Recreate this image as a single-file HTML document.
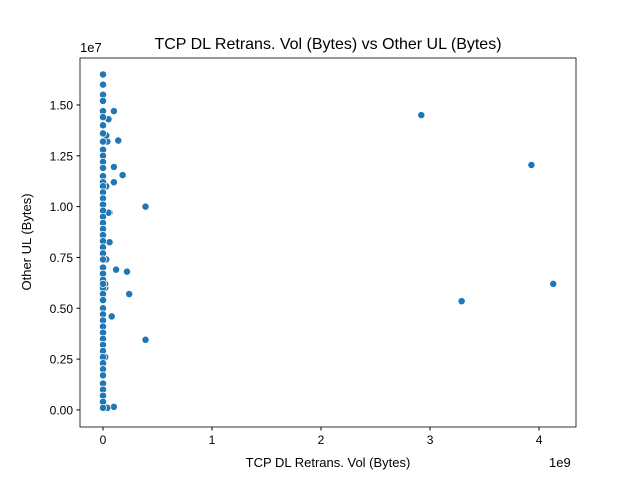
<!DOCTYPE html>
<html><head><meta charset="utf-8"><style>
body{margin:0;background:#fff;}
svg{display:block;font-family:"Liberation Sans","DejaVu Sans",sans-serif;}
</style></head><body>
<svg id="chart" width="640" height="480">
<rect width="640" height="480" fill="#fff"/>
<text x="328" y="49" font-size="16" text-anchor="middle">TCP DL Retrans. Vol (Bytes) vs Other UL (Bytes)</text>
<g id="marks"></g>
<g id="axes"></g>
<text x="328" y="467" font-size="13" text-anchor="middle">TCP DL Retrans. Vol (Bytes)</text>
<text x="31" y="242" font-size="13" text-anchor="middle" transform="rotate(-90 31 242)">Other UL (Bytes)</text>
<text x="549" y="467" font-size="13">1e9</text>
<text x="80" y="52" font-size="13">1e7</text>
</svg>
<script>
const xTicks=[0,1,2,3,4];
const yTicks=[0,0.25,0.5,0.75,1.0,1.25,1.5];
const yTickLabels=["0.00","0.25","0.50","0.75","1.00","1.25","1.50"];
// x in 1e9 bytes, y in 1e7 bytes
const xVals=[2.92,3.93,3.29,4.13,0.39,0.39,0.24,0.22,0.18,0.14,0.10,0.12,0.10,0.10,0.08,0.10,0.06,0.06,0.05,0.04,0.03,0.02,0.03,0.02,0.04,0.05,0.03,0.02,
0,0,0,0,0,0,0,0,0,0,0,0,0,0,0,0,0,0,0,0,0,0,0,0,0,0,0,0,0,0,0,0,0,0,0,0,0,0,0,0,0,0,0,0,0,0,0,0,0,0,0,0];
const yVals=[1.45,1.205,0.535,0.62,1.0,0.345,0.57,0.68,1.155,1.325,1.47,0.69,1.195,1.12,0.46,0.015,0.825,0.97,1.43,1.32,0.74,0.60,1.10,0.26,0.01,0.97,1.35,0.62,
1.65,1.60,1.55,1.52,1.47,1.44,1.40,1.36,1.32,1.28,1.25,1.22,1.19,1.15,1.12,1.10,1.07,1.04,1.01,0.98,0.95,0.92,0.89,0.86,0.83,0.80,0.77,0.74,0.70,0.67,0.64,0.60,0.57,0.54,0.50,0.47,0.44,0.41,0.38,0.35,0.32,0.29,0.26,0.23,0.20,0.17,0.13,0.10,0.07,0.04,0.01,0.62,0.33,0.88];
const L=80,R=576,T=58,B=427;
const xMin=-0.211,xMax=4.339,yMin=-0.084,yMax=1.731;
const sx=v=>L+(v-xMin)/(xMax-xMin)*(R-L);
const sy=v=>B-(v-yMin)/(yMax-yMin)*(B-T);
const NS="http://www.w3.org/2000/svg";
const marks=document.getElementById('marks');
for(let i=0;i<xVals.length;i++){
 const c=document.createElementNS(NS,'circle');
 c.setAttribute('cx',sx(xVals[i]));c.setAttribute('cy',sy(yVals[i]));c.setAttribute('r',3.6);
 c.setAttribute('fill','#1f77b4');c.setAttribute('stroke','#fff');c.setAttribute('stroke-width','0.7');
 
 
 marks.appendChild(c);
}
const axes=document.getElementById('axes');
const fr=document.createElementNS(NS,'rect');
fr.setAttribute('x',L);fr.setAttribute('y',T);fr.setAttribute('width',R-L);fr.setAttribute('height',B-T);
fr.setAttribute('fill','none');fr.setAttribute('stroke','#000');fr.setAttribute('stroke-width','0.8');


axes.appendChild(fr);
xTicks.forEach(t=>{
 const l=document.createElementNS(NS,'line');
 l.setAttribute('x1',sx(t));l.setAttribute('x2',sx(t));l.setAttribute('y1',B);l.setAttribute('y2',B+3.5);l.setAttribute('stroke','#000');
 
 
 axes.appendChild(l);
 const tx=document.createElementNS(NS,'text');
 tx.setAttribute('x',sx(t));tx.setAttribute('y',B+17);tx.setAttribute('font-size','12');tx.setAttribute('text-anchor','middle');
 tx.textContent=String(t);
 
 
 axes.appendChild(tx);
});
yTicks.forEach((t,i)=>{
 const l=document.createElementNS(NS,'line');
 l.setAttribute('x1',L-3.5);l.setAttribute('x2',L);l.setAttribute('y1',sy(t));l.setAttribute('y2',sy(t));l.setAttribute('stroke','#000');
 
 
 axes.appendChild(l);
 const tx=document.createElementNS(NS,'text');
 tx.setAttribute('x',L-7);tx.setAttribute('y',sy(t)+4.5);tx.setAttribute('font-size','12');tx.setAttribute('text-anchor','end');
 tx.textContent=yTickLabels[i];
 
 
 axes.appendChild(tx);
});
</script>
</body></html>
